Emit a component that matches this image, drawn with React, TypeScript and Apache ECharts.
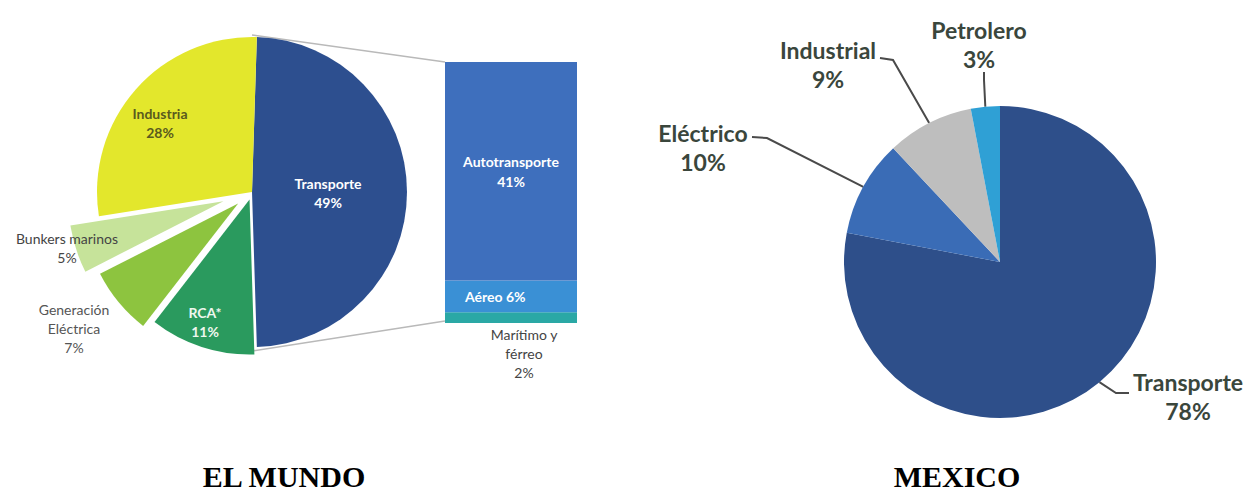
import React, { useEffect, useRef } from 'react';
import * as echarts from 'echarts';

// ---------- data ----------
const worldCategories = ['Transporte', 'RCA*', 'Generación Eléctrica', 'Bunkers marinos', 'Industria'];
const worldValues = [49, 11, 7, 5, 28];

const transportCategories = ['Marítimo y férreo', 'Aéreo', 'Autotransporte'];
const transportValues = [2, 6, 41];

const mexicoCategories = ['Transporte', 'Eléctrico', 'Industrial', 'Petrolero'];
const mexicoValues = [78, 10, 9, 3];

const chartTitles = ['EL MUNDO', 'MEXICO'];

// ---------- styles / layout ----------
const worldColors = ['#2d4f8f', '#2a9a5e', '#8dc43f', '#c6e39a', '#e3e72c'];
const worldOffsets = [0, 8, 18, 30, 0];
const worldLabelAnchors = [[328, 193], [205, 322], [74, 328], [67, 248], [160, 123]];
const worldLabelColors = ['#ffffff', '#eef7ee', '#555555', '#444444', '#5a5a1e'];
const worldLabelWeights = ['bold', 'bold', 'normal', 'normal', 'bold'];

const transportColors = ['#2aa8a5', '#3a90d5', '#3e6fbd'];

const mexicoColors = ['#2e4f8a', '#3a6cb6', '#bebebe', '#2fa0d5'];
const mexicoLabelAnchors = [[1188, 396], [703, 147], [828, 64], [979, 44]];
const mexicoLineElbows = [
  [[1116, 393], [1129, 393]],
  [[767, 138], [752, 137]],
  [[893, 60], [880, 58]],
  [[984, 80], [984, 72]],
];

const titleCenters = [284, 957];

const FONT = 'Lato, "Open Sans", "Noto Sans", sans-serif';

function buildOption(): any {
  const groups = Array.from(new Set(worldOffsets));
  const worldSeries = groups.map((off) => ({
    type: 'pie',
    center: [252, 192],
    radius: 155,
    startAngle: 88.2,
    clockwise: true,
    avoidLabelOverlap: false,
    selectedMode: off > 0 ? 'multiple' : false,
    selectedOffset: off,
    z: off === 0 ? 4 : 3,
    emphasis: { disabled: true },
    labelLine: { show: false },
    label:
      off === 0
        ? {
            show: true,
            position: 'inside',
            fontFamily: FONT,
            fontSize: 14,
            lineHeight: 19,
            formatter: (p: any) =>
              (p.name === 'Generación Eléctrica' ? 'Generación\nEléctrica' : p.name) + '\n' + p.value + '%',
          }
        : { show: false },
    labelLayout:
      off === 0
        ? (p: any) => ({
            x: worldLabelAnchors[p.dataIndex][0],
            y: worldLabelAnchors[p.dataIndex][1],
            align: 'center',
            verticalAlign: 'middle',
          })
        : undefined,
    data: worldCategories.map((name, i) => ({
      name,
      value: worldValues[i],
      selected: off > 0 && worldOffsets[i] === off,
      itemStyle: { color: worldOffsets[i] === off ? worldColors[i] : 'rgba(0,0,0,0)' },
      label:
        off === 0
          ? { color: worldLabelColors[i], fontWeight: worldLabelWeights[i] }
          : { show: false },
    })),
  }));

  const barSeries = transportCategories.map((name, i) => ({
    type: 'bar',
    name,
    stack: 'transporte',
    barWidth: '100%',
    data: [transportValues[i]],
    itemStyle: { color: transportColors[i] },
    emphasis: { disabled: true },
    label:
      i === 2
        ? {
            show: true,
            position: 'inside',
            formatter: '{a}\n{c}%',
            color: '#ffffff',
            fontWeight: 'bold',
            fontFamily: FONT,
            fontSize: 14,
            lineHeight: 20,
          }
        : i === 1
        ? {
            show: true,
            position: 'insideLeft',
            distance: 20,
            formatter: '{a} {c}%',
            color: '#ffffff',
            fontWeight: 'bold',
            fontFamily: FONT,
            fontSize: 14,
          }
        : {
            show: true,
            position: 'bottom',
            distance: 2,
            offset: [13, 0],
            formatter: 'Marítimo y\nférreo\n{c}%',
            color: '#444444',
            fontFamily: FONT,
            fontSize: 14,
            lineHeight: 19,
          },
  }));

  const mexicoSeries = {
    type: 'pie',
    center: [1000, 262],
    radius: 156,
    startAngle: 90,
    clockwise: true,
    avoidLabelOverlap: false,
    emphasis: { disabled: true },
    label: {
      show: true,
      position: 'outside',
      formatter: '{b}\n{c}%',
      fontFamily: FONT,
      fontWeight: 'bold',
      fontSize: 23,
      lineHeight: 29,
      color: '#3a463c',
    },
    labelLine: { show: true, lineStyle: { color: '#4a4a4a', width: 2 } },
    labelLayout: (p: any) => {
      const i = p.dataIndex;
      const start = p.labelLinePoints && p.labelLinePoints[0] ? p.labelLinePoints[0] : mexicoLineElbows[i][0];
      return {
        x: mexicoLabelAnchors[i][0],
        y: mexicoLabelAnchors[i][1],
        align: 'center',
        verticalAlign: 'middle',
        labelLinePoints: [start, mexicoLineElbows[i][0], mexicoLineElbows[i][1]],
      };
    },
    data: mexicoCategories.map((name, i) => ({
      name,
      value: mexicoValues[i],
      itemStyle: { color: mexicoColors[i] },
    })),
  };

  return {
    animation: false,
    backgroundColor: '#ffffff',
    title: chartTitles.map((t, i) => ({
      text: t,
      left: titleCenters[i],
      top: 461,
      textAlign: 'center',
      padding: 0,
      textStyle: {
        fontFamily: '"Liberation Serif", "Times New Roman", serif',
        fontWeight: 'bold',
        fontSize: 30,
        lineHeight: 30,
        color: '#000000',
      },
    })),
    grid: { left: 445, top: 62, width: 132, height: 261 },
    xAxis: { type: 'category', data: ['Transporte'], show: false },
    yAxis: { type: 'value', min: 0, max: 49, show: false },
    graphic: [
      {
        type: 'line',
        z: 0,
        shape: { x1: 252, y1: 35, x2: 445, y2: 62 },
        style: { stroke: '#b9b9b9', lineWidth: 1.5 },
      },
      {
        type: 'line',
        z: 0,
        shape: { x1: 252, y1: 351, x2: 445, y2: 321 },
        style: { stroke: '#b9b9b9', lineWidth: 1.5 },
      },
    ],
    series: [...worldSeries, ...barSeries, mexicoSeries],
  };
}

export default function App() {
  const ref = useRef<HTMLDivElement>(null);
  useEffect(() => {
    if (!ref.current) return;
    const chart = echarts.init(ref.current, null, { renderer: 'svg', width: 1248, height: 497 });
    chart.setOption(buildOption());
    return () => chart.dispose();
  }, []);
  return (
    <div
      ref={ref}
      style={{ position: 'fixed', left: 0, top: 0, width: 1248, height: 497, background: '#fff' }}
    />
  );
}
